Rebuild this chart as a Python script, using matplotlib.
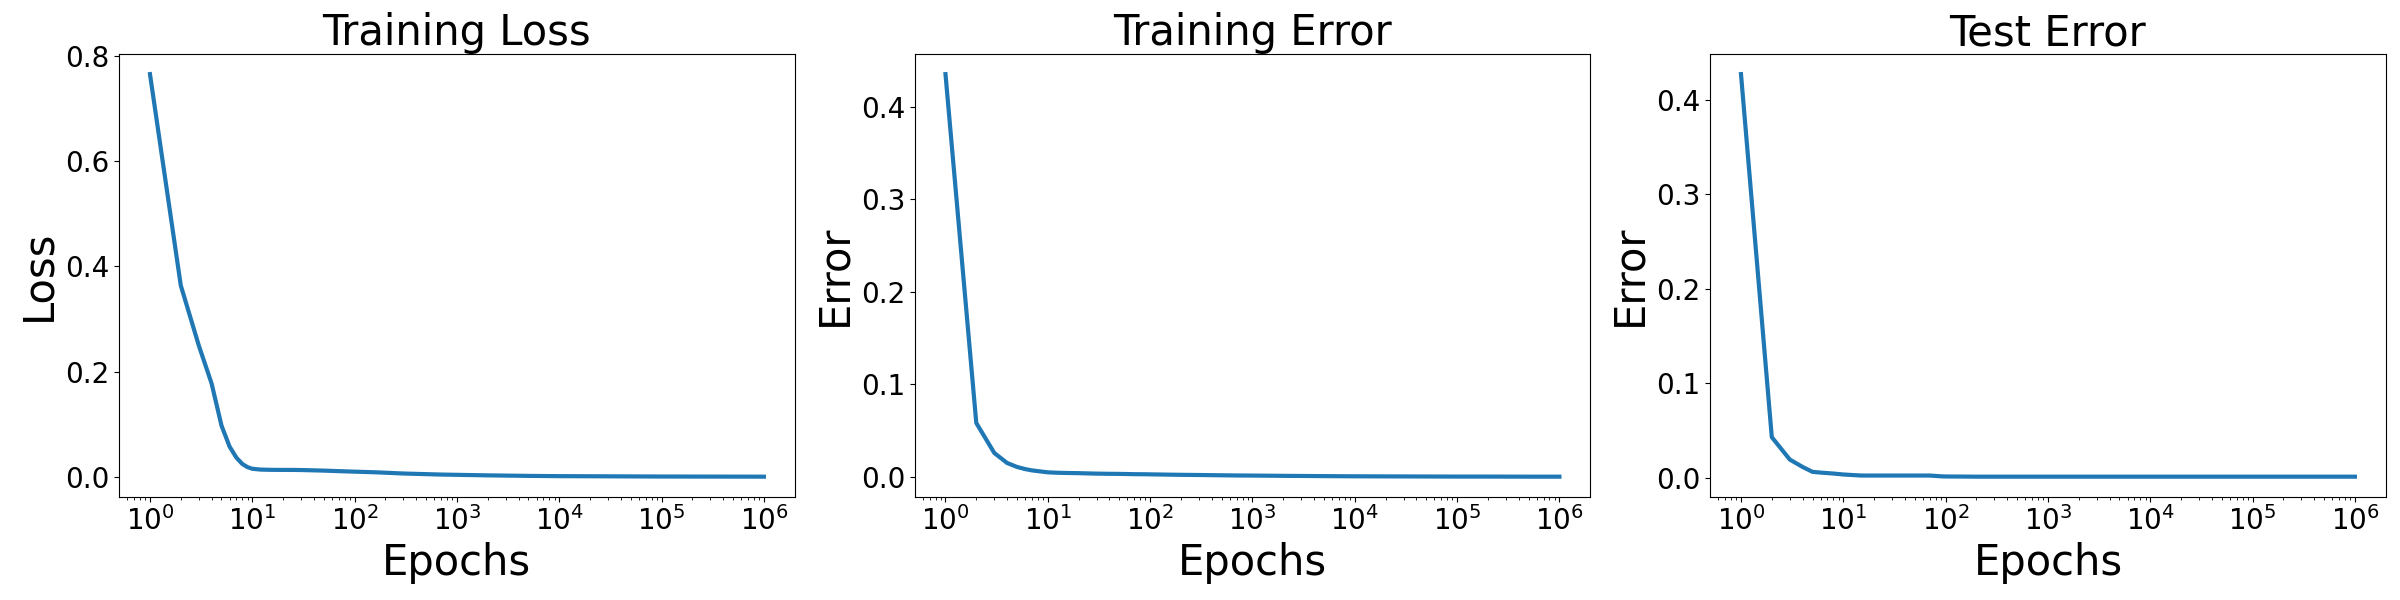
import matplotlib
matplotlib.use("Agg")
import matplotlib.pyplot as plt


epochs = [1, 2, 3, 4, 5, 6, 7, 8, 9, 10, 12, 15, 20, 25, 30, 40, 50, 70, 90,
          100, 150, 200, 300, 500, 700, 1000, 2000, 5000, 10000, 20000,
          50000, 100000, 200000, 500000, 1000000]

train_loss = [0.765, 0.364, 0.25, 0.178, 0.098, 0.058, 0.037, 0.025, 0.019,
              0.016, 0.0145, 0.014, 0.0138, 0.0138, 0.0136, 0.013, 0.0125,
              0.0115, 0.0108, 0.0105, 0.0095, 0.0085, 0.007, 0.0058, 0.005,
              0.0045, 0.0035, 0.0025, 0.002, 0.0018, 0.0015, 0.0013, 0.0012,
              0.0011, 0.001]

train_error = [0.435, 0.058, 0.0256, 0.0148, 0.0105, 0.0082, 0.0068, 0.006,
               0.0053, 0.0047, 0.0043, 0.004, 0.0038, 0.0035, 0.0033, 0.0031,
               0.003, 0.0027, 0.0026, 0.0025, 0.0022, 0.002, 0.0018, 0.0015,
               0.0013, 0.0012, 0.0009, 0.0006, 0.0004, 0.0003, 0.0002, 0.0001,
               0.0001, 0.0, 0.0]

test_error = [0.427, 0.043, 0.0193, 0.0115, 0.0063, 0.0055, 0.005, 0.0045,
              0.004, 0.0035, 0.003, 0.0024, 0.0024, 0.0024, 0.0024, 0.0024,
              0.0024, 0.0024, 0.0016, 0.0014, 0.0013, 0.0012, 0.0012, 0.0012,
              0.0012, 0.0012, 0.0012, 0.0012, 0.0012, 0.0012, 0.0012, 0.0012,
              0.0012, 0.0012, 0.0012]

titles = ["Training Loss", "Training Error", "Test Error"]
ylabels = ["Loss", "Error", "Error"]
series = [train_loss, train_error, test_error]


fig, axes = plt.subplots(1, 3, figsize=(24, 6), dpi=100)
fig.subplots_adjust(left=0.0497, right=0.994, bottom=0.172, top=0.91, wspace=0.178)

for ax, values, title, ylabel in zip(axes, series, titles, ylabels):
    ax.plot(epochs, values, color="#1f77b4", linewidth=3)
    ax.set_xscale("log")
    ax.set_title(title, fontsize=30)
    ax.set_xlabel("Epochs", fontsize=30)
    ax.set_ylabel(ylabel, fontsize=30)
    ax.tick_params(axis="both", which="major", labelsize=20)

fig.savefig("out.png", dpi=100)
plt.close(fig)
